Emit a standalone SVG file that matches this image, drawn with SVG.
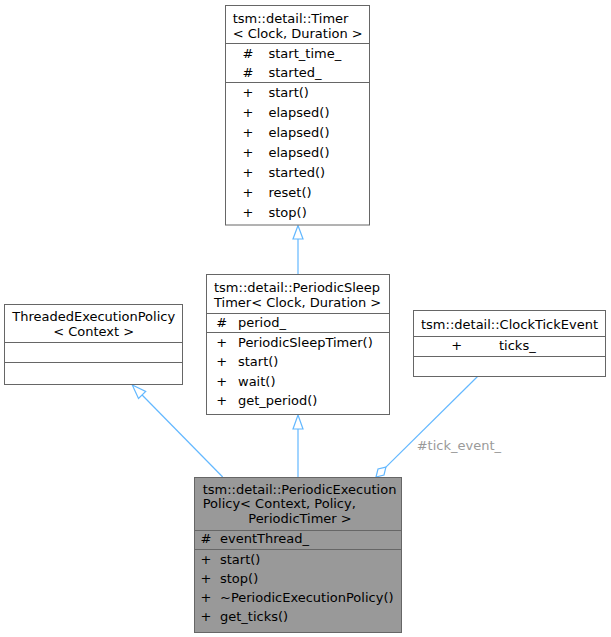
<svg xmlns="http://www.w3.org/2000/svg" width="611" height="637" viewBox="0 0 611 637">
<style>
text{font-family:"DejaVu Sans","Noto Sans",sans-serif;font-size:13px;fill:#000}
.box{fill:#fff;stroke:#666;stroke-width:1}
.main{fill:#999;stroke:#666;stroke-width:1}
.sep{stroke:#666;stroke-width:1}
.c{text-anchor:middle}
.edge{stroke:#63b8ff;stroke-width:1.2;fill:none}
.head{stroke:#63b8ff;stroke-width:1.2;fill:#fff}
.lbl{fill:#9a9a9a}
</style>
<rect width="611" height="637" fill="#fff"/>
<g id="connectors">
<line class="edge" x1="298" y1="274" x2="298" y2="239"/>
<polygon class="head" points="298,225.5 303,239 293,239"/>
<line class="edge" x1="298" y1="477" x2="298" y2="429"/>
<polygon class="head" points="298,415 303,429 293,429"/>
<line class="edge" x1="222.7" y1="477" x2="142.1" y2="395"/>
<polygon class="head" points="132.3,385 145.7,391.5 138.5,398.5"/>
<line class="edge" x1="477.3" y1="376.7" x2="385.9" y2="467.1"/>
<polygon class="head" points="376,477 378,469 385.9,467.1 384,475"/>
<text class="lbl" x="416.7" y="449.5">#tick_event_</text>
</g>
<g id="timer">
<rect class="box" x="225.5" y="5.5" width="144" height="219.5"/>
<text x="232.7" y="22.5">tsm::detail::Timer</text>
<text class="c" x="297.7" y="37.5">&lt; Clock, Duration &gt;</text>
<line class="sep" x1="225.5" y1="43.5" x2="369.5" y2="43.5"/>
<text class="c" x="248" y="57.5">#</text><text x="268.5" y="57.5">start_time_</text>
<text class="c" x="248" y="77">#</text><text x="268.5" y="77">started_</text>
<line class="sep" x1="225.5" y1="82.5" x2="369.5" y2="82.5"/>
<text class="c" x="248" y="96.5">+</text><text x="268.5" y="96.5">start()</text>
<text class="c" x="248" y="116.5">+</text><text x="268.5" y="116.5">elapsed()</text>
<text class="c" x="248" y="136.5">+</text><text x="268.5" y="136.5">elapsed()</text>
<text class="c" x="248" y="156.5">+</text><text x="268.5" y="156.5">elapsed()</text>
<text class="c" x="248" y="176.5">+</text><text x="268.5" y="176.5">started()</text>
<text class="c" x="248" y="196.5">+</text><text x="268.5" y="196.5">reset()</text>
<text class="c" x="248" y="216.5">+</text><text x="268.5" y="216.5">stop()</text>
</g>
<g id="periodicSleepTimer">
<rect class="box" x="206.5" y="274.5" width="183" height="140"/>
<text x="214" y="291.5">tsm::detail::PeriodicSleep</text>
<text x="214" y="306.5">Timer&lt; Clock, Duration &gt;</text>
<line class="sep" x1="206.5" y1="313.5" x2="389.5" y2="313.5"/>
<text class="c" x="221.7" y="327">#</text><text x="238" y="327">period_</text>
<line class="sep" x1="206.5" y1="332.5" x2="389.5" y2="332.5"/>
<text class="c" x="221.7" y="346.5">+</text><text x="238" y="346.5">PeriodicSleepTimer()</text>
<text class="c" x="221.7" y="366">+</text><text x="238" y="366">start()</text>
<text class="c" x="221.7" y="385.7">+</text><text x="238" y="385.7">wait()</text>
<text class="c" x="221.7" y="405.3">+</text><text x="238" y="405.3">get_period()</text>
</g>
<g id="threadedExecutionPolicy">
<rect class="box" x="4.5" y="304.5" width="178" height="80"/>
<text class="c" x="93.7" y="321">ThreadedExecutionPolicy</text>
<text class="c" x="93.7" y="335.5">&lt; Context &gt;</text>
<line class="sep" x1="4.5" y1="342.5" x2="182.5" y2="342.5"/>
<line class="sep" x1="4.5" y1="362.5" x2="182.5" y2="362.5"/>
</g>
<g id="clockTickEvent">
<rect class="box" x="413.5" y="310.5" width="192" height="66"/>
<text class="c" x="509.5" y="328.5">tsm::detail::ClockTickEvent</text>
<line class="sep" x1="413.5" y1="336.5" x2="605.5" y2="336.5"/>
<text class="c" x="456.7" y="350">+</text><text x="499" y="350">ticks_</text>
<line class="sep" x1="413.5" y1="356.5" x2="605.5" y2="356.5"/>
</g>
<g id="periodicExecutionPolicy">
<rect class="main" x="194.5" y="477.5" width="207" height="155"/>
<text x="202.7" y="493.5">tsm::detail::PeriodicExecution</text>
<text x="202.7" y="508">Policy&lt; Context, Policy,</text>
<text class="c" x="300" y="522.5">PeriodicTimer &gt;</text>
<line class="sep" x1="194.5" y1="530.5" x2="401.5" y2="530.5"/>
<text class="c" x="206" y="542.5">#</text><text x="220" y="542.5">eventThread_</text>
<line class="sep" x1="194.5" y1="549.5" x2="401.5" y2="549.5"/>
<text class="c" x="206" y="563.5">+</text><text x="220" y="563.5">start()</text>
<text class="c" x="206" y="582.5">+</text><text x="220" y="582.5">stop()</text>
<text class="c" x="206" y="601.5">+</text><text x="220" y="601.5">~PeriodicExecutionPolicy()</text>
<text class="c" x="206" y="620.5">+</text><text x="220" y="620.5">get_ticks()</text>
</g>
</svg>
